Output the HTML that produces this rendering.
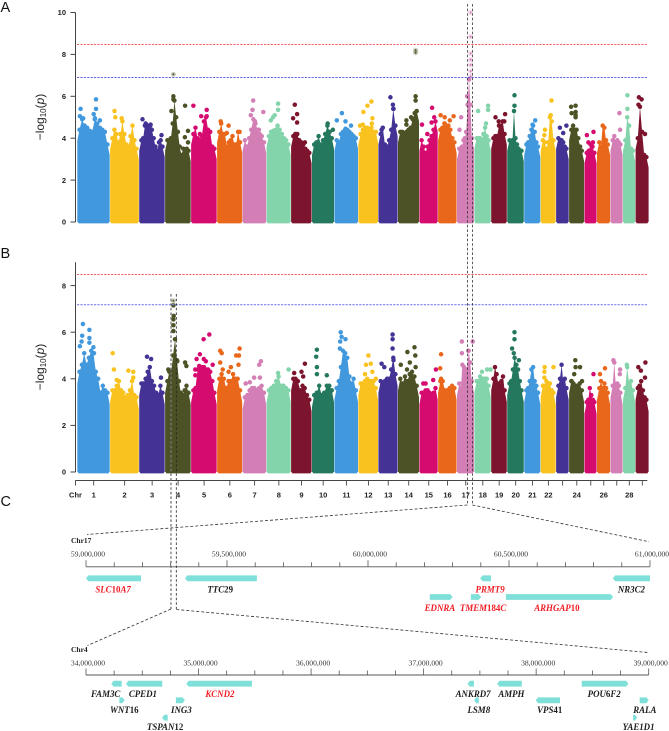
<!DOCTYPE html>
<html lang="en">
<head>
<meta charset="utf-8">
<title>Manhattan plots with candidate gene regions</title>
<style>
html,body{margin:0;padding:0;background:#fff;}
body{width:669px;height:731px;overflow:hidden;}
svg{display:block;}
.tick{font:bold 7.5px "Liberation Sans",sans-serif;fill:#222;}
.serif{font-family:"Liberation Serif",serif;}
</style>
</head>
<body>
<svg id="fig" xmlns="http://www.w3.org/2000/svg" width="669" height="731" viewBox="0 0 669 731">
  <text x="0.5" y="12" font-family="Liberation Sans, sans-serif" font-size="14.5" fill="#111">A</text>
  <text x="0.5" y="258" font-family="Liberation Sans, sans-serif" font-size="14.5" fill="#111">B</text>
  <text x="0.5" y="506" font-family="Liberation Sans, sans-serif" font-size="14.5" fill="#111">C</text>
  <text transform="translate(44,117) rotate(-90)" text-anchor="middle" font-family="Liberation Sans, sans-serif" font-size="12" fill="#222">−log<tspan font-size="8" dy="2">10</tspan><tspan dy="-2">(</tspan><tspan font-style="italic">p</tspan>)</text>
  <text transform="translate(44,367) rotate(-90)" text-anchor="middle" font-family="Liberation Sans, sans-serif" font-size="12" fill="#222">−log<tspan font-size="8" dy="2">10</tspan><tspan dy="-2">(</tspan><tspan font-style="italic">p</tspan>)</text>
  <text x="71" y="543" class="serif" font-size="7.5" font-weight="bold" fill="#222">Chr17</text>
  <text x="71" y="652" class="serif" font-size="7.5" font-weight="bold" fill="#222">Chr4</text>
  <g id="plots"></g>
  <g id="regions"></g>
  <g id="guides" fill="none">
    <line x1="467.4" y1="4" x2="467.4" y2="505" stroke="#333" stroke-width="0.8" stroke-dasharray="2.6 2"/>
    <line x1="472.4" y1="4" x2="472.4" y2="505" stroke="#333" stroke-width="0.8" stroke-dasharray="2.6 2"/>
    <line x1="467.4" y1="505" x2="87" y2="534.5" stroke="#333" stroke-width="0.8" stroke-dasharray="3 2"/>
    <line x1="472.4" y1="505" x2="649" y2="541.7" stroke="#333" stroke-width="0.8" stroke-dasharray="3 2"/>
    <line x1="171" y1="294" x2="171" y2="609" stroke="#777" stroke-width="1.3" stroke-dasharray="2.6 2"/>
    <line x1="176.3" y1="294" x2="176.3" y2="609" stroke="#222" stroke-width="0.8" stroke-dasharray="2.6 2"/>
    <line x1="171" y1="609" x2="87.5" y2="645.5" stroke="#333" stroke-width="0.8" stroke-dasharray="3 2"/>
    <line x1="176.3" y1="609.5" x2="648" y2="652.5" stroke="#333" stroke-width="0.8" stroke-dasharray="3 2"/>
  </g>
</svg>
<script>
var chrNames = [1,2,3,4,5,6,7,8,9,10,11,12,13,14,15,16,17,18,19,20,21,22,23,24,25,26,27,28,29];
var chrLengths = [149,132,118,118,118,116,109,111,95,102,109,91,89,97,85,86,79,76,73,77,75,70,59,70,57,61,57,57,61];
var chrTickLabels = ["1","2","3","4","5","6","7","8","9","10","11","12","13","14","15","16","17","18","19","20","21","22","","24","","26","","28",""];
var palette = ["#4298dc","#f9c21e","#443295","#4c5225","#d60b70","#e9671a","#d37fb6","#84d4ab","#7d142e","#24785e"];
var yTicksA = [0,2,4,6,8,10];
var yTicksB = [0,2,4,6,8];
var thresholdsA = [8.47,6.9];
var thresholdsB = [8.47,7.18];

var profileA = [
[4.4,4.9,4.6,4.5,4.35,4.3,4.9,4.7,4.5,4.4,4.3,3.7],
[4.0,4.4,4.2,3.8,4.2,4.8,4.2,3.7,3.6,4.1,4.6,3.9,3.5],
[3.9,4.0,4.6,4.5,4.6,4.6,4.4,4.0,3.6,3.4,3.8,3.9,3.6],
[3.9,3.9,4.0,4.7,5.8,5.0,4.3,3.6,3.2,3.5,3.4,3.5,3.4],
[4.2,4.5,4.0,3.9,4.1,4.8,5.0,4.4,4.3,3.6,3.5],
[4.3,4.7,4.2,4.2,3.6,3.8,3.9,4.1,3.7,3.7,4.3,3.8],
[3.9,3.6,4.0,4.4,4.9,4.7,4.4,4.2,4.1,3.8],
[4.1,4.3,4.35,4.4,4.6,4.4,4.2,4.0,3.9,3.7],
[4.1,4.2,4.2,3.9,3.8,3.7,3.5,3.4,3.3],
[3.7,3.8,4.1,3.7,3.9,4.2,4.6,4.3,4.0],
[3.9,3.8,4.2,4.3,4.4,4.4,4.3,4.2,4.1,4.0],
[4.2,4.4,4.5,4.5,4.4,4.5,4.3,4.3],
[4.2,4.5,3.7,3.6,3.9,4.4,5.4,4.6],
[4.3,4.3,4.2,4.3,4.4,4.5,4.9,5.2,5.3],
[3.9,3.6,3.3,3.6,3.9,4.1,4.4,4.8],
[4.4,4.5,4.7,4.5,4.6,4.4,4.0,3.8],
[3.5,3.4,3.6,3.9,4.0,4.3,5.6,6.8,5.6,4.0],
[4.0,4.0,4.0,3.9,4.2,4.5,4.1,3.9],
[4.0,4.1,4.1,4.6,4.6,4.8,4.2],
[3.9,3.8,3.9,5.3,4.0,3.7,3.5,3.4,3.4],
[3.7,3.8,4.1,4.4,4.6,4.3,3.8,3.6],
[3.9,3.8,3.5,3.8,5.0,4.8,3.9],
[4.0,3.9,3.9,3.8,3.6,3.5],
[4.4,4.6,4.4,4.4,4.0,3.6,3.4],
[3.3,3.4,3.7,3.6,3.3],
[3.8,3.6,4.6,4.5,3.9,3.7],
[3.9,4.1,3.8,3.9,3.8,3.7],
[3.9,5.0,4.6,3.5,3.4],
[4.0,5.5,4.3,3.2,3.1]
];
var peaksA = [
[[.1,5.4],[.08,5.05],[.18,4.95],[.57,5.85],[.57,5.4],[.5,5.15],[.54,4.95],[.69,4.85]],
[[.15,5.3],[.18,5.0],[.4,4.95]],
[[.13,4.9],[.25,4.7],[.44,4.65],[.86,4.15]],
[[.32,6.0],[.32,5.85],[.77,5.55],[.88,4.35],[.76,4.05],[.88,3.8],[.24,5.3]],
[[.09,5.55],[.6,5.35],[.39,5.05],[.6,5.05],[.34,4.2]],
[[.14,4.8],[.45,4.6],[.38,4.25],[.88,4.3]],
[[.44,5.8],[.41,5.35],[.34,5.1],[.86,5.25],[.51,4.8],[.68,4.4]],
[[.47,5.65],[.47,5.35],[.33,5.1],[.26,5.0],[.17,4.85]],
[[.18,5.6],[.29,5.15],[.1,4.95],[.29,4.75],[.66,3.8]],
[[.7,4.7],[.93,4.4]],
[[.31,5.2],[.1,4.85],[.46,4.8],[.69,4.6],[.46,4.45]],
[[.65,5.75],[.45,5.55],[.25,5.25],[.7,4.95],[.67,4.7],[.08,4.6],[.22,4.65]],
[[.61,5.95],[.74,5.6],[.16,4.4],[.77,5.4]],
[[.82,6.0],[.82,5.8],[.39,4.85],[.39,4.65],[.61,5.0]],
[[.68,5.45],[.14,4.65],[.42,4.2],[.79,5.0],[.65,4.75]],
[[.13,5.1],[.35,5.0],[.62,4.85],[.82,5.05],[.35,4.7]],
[[.58,6.0],[.24,5.0],[.14,4.4]],
[[.22,5.3],[.82,5.55],[.82,5.35],[.69,4.7]],
[[.27,5.0],[.87,5.15],[.47,4.8],[.82,4.8]],
[[.43,6.05],[.43,5.55]],
[[.67,4.85],[.51,4.65]],
[[.7,5.8],[.65,5.1],[.28,4.4],[.24,4.15]],
[[.79,4.6],[.29,4.5],[.55,4.25]],
[[.42,5.55],[.42,5.25],[.13,5.5],[.42,5.1],[.16,5.2],[.42,5.0]],
[[.19,4.15],[.72,4.3],[.31,3.8],[.67,3.8]],
[],
[[.71,5.2],[.77,4.4]],
[[.35,6.05],[.35,5.4]],
[[.25,5.95],[.45,5.85],[.22,5.6],[.7,4.2]]
];
var highlightsA = [[3,.32,7.05],[13,.82,8.08],[13,.82,8.2],[16,.78,10.0],[16,.78,8.85],[16,.78,8.05],[16,.78,7.75],[16,.78,7.5],[16,.78,7.2],[16,.78,6.95]];

var profileB = [
[4.3,4.6,5.1,4.6,4.9,5.2,5.1,4.3,4.0,3.4,3.7,3.5,3.4],
[3.5,3.5,3.7,3.9,3.5,3.4,3.2,3.3,3.5,3.9,3.3,3.2],
[3.8,3.8,4.0,4.3,4.5,3.9,3.7,3.4,3.3,3.7,3.4],
[3.9,4.3,4.3,5.0,5.7,4.8,3.9,3.4,3.3,3.5,3.7,3.4],
[3.5,3.6,4.4,4.5,4.5,4.5,4.4,4.4,4.3,3.9,3.4],
[4.0,4.2,4.0,3.6,3.9,3.9,4.2,4.0,4.0,3.5],
[3.2,3.3,3.5,3.6,3.6,3.5,3.6,3.7,3.4],
[3.5,3.6,3.7,3.9,4.1,3.7,3.7,3.6,3.5],
[4.0,4.0,3.9,3.5,3.7,3.6,3.3,3.1],
[3.3,3.4,3.7,3.3,3.4,3.7,3.7,3.5],
[3.6,3.9,4.5,5.2,5.1,4.9,4.1,3.8,4.0,3.5],
[3.8,3.8,3.9,4.0,3.9,3.9,3.9,3.6],
[3.9,3.8,3.9,4.0,4.0,4.4,4.9,4.2],
[4.0,3.8,4.1,3.9,4.2,4.3,4.1,3.7],
[3.4,3.4,3.5,3.5,3.4,3.3,3.4,3.6],
[3.9,3.9,3.5,3.5,3.6,3.7,3.6],
[3.8,3.6,4.6,4.5,4.4,4.4,5.2,4.7,3.9],
[3.9,3.9,4.1,4.0,4.0,4.0,4.0,3.7],
[4.0,4.5,4.2,3.8,3.7,3.9,4.1,3.5],
[3.8,3.9,4.4,4.9,4.6,4.4,3.9,3.5],
[3.5,3.6,3.9,4.4,4.5,3.9,3.7,3.4],
[3.7,3.7,3.9,3.8,3.8,3.5,3.4],
[3.7,4.0,4.6,3.9,4.0,3.6],
[3.9,3.8,3.7,3.7,3.8,3.5],
[3.0,3.1,3.6,3.3,3.1,3.0],
[3.6,3.9,3.6,3.8,3.6,3.4],
[3.7,4.7,3.7,3.8,3.7,3.4],
[3.6,4.5,3.8,3.9,3.5],
[3.6,3.7,3.9,3.5,3.2,3.1]
];
var peaksB = [
[[.17,6.35],[.37,6.1],[.15,5.85],[.13,5.6],[.37,5.75],[.37,5.55],[.49,5.35],[.08,5.4],[.51,5.1]],
[[.09,5.1],[.13,4.4],[.63,4.35],[.8,4.3],[.8,4.05],[.23,3.95]],
[[.3,4.95],[.46,4.85],[.84,4.05]],
[[.32,7.15],[.33,6.7],[.32,6.55],[.32,6.3],[.32,6.05],[.77,4.7],[.82,4.55],[.47,4.75],[.12,4.4]],
[[.7,5.9],[.48,5.7],[.34,5.05],[.21,4.85],[.49,4.85],[.57,4.75],[.16,4.4],[.16,4.15],[.31,4.55],[.83,4.6]],
[[.12,5.2],[.18,5.1],[.12,4.7],[.88,5.3],[.75,5.0],[.86,5.0],[.84,4.6],[.54,4.5],[.22,4.4],[.45,4.3]],
[[.76,4.75],[.69,4.6],[.48,4.05],[.13,3.8],[.3,3.85],[.72,4.05]],
[[.9,4.4],[.47,4.25]],
[[.66,4.65],[.5,4.3],[.15,4.25],[.58,4.1]],
[[.22,5.25],[.19,4.95],[.22,4.5],[.66,4.15],[.22,4.2]],
[[.26,6.0],[.3,5.8],[.46,5.7],[.24,5.6],[.23,5.3]],
[[.5,5.0],[.38,4.6],[.62,4.65],[.7,4.3],[.33,4.2],[.87,4.0]],
[[.72,5.9],[.72,5.7],[.72,5.3],[.16,4.65],[.3,4.5],[.77,4.8]],
[[.77,5.35],[.44,5.15],[.81,5.0],[.55,4.7],[.13,4.6],[.82,4.5],[.42,4.4]],
[[.88,4.4],[.74,3.95],[.21,3.8],[.33,3.8]],
[[.16,5.05],[.11,4.45],[.16,4.0]],
[[.28,5.6],[.28,5.1],[.9,5.6],[.64,5.2]],
[[.45,4.3],[.76,4.4],[.96,4.4]],
[],
[[.43,6.0],[.43,5.7],[.29,5.3],[.39,5.1],[.69,4.8]],
[],
[[.26,4.5],[.83,4.5],[.24,4.3],[.24,4.05]],
[],
[[.4,4.8],[.71,4.5],[.42,4.5],[.33,4.2],[.16,3.9],[.84,3.9]],
[[.72,4.2]],
[[.59,4.45],[.22,4.2]],
[[.23,4.8],[.77,4.4],[.74,4.2]],
[[.3,4.6]],
[[.73,4.7],[.2,4.5],[.4,4.35],[.7,4.05]]
];
var highlightsB = [[3,.32,7.35]];

var region17Labels = ["59,000,000","59,500,000","60,000,000","60,500,000","61,000,000"];
var region17Majors = [59,59.5,60,60.5,61];
var region4Labels = ["34,000,000","35,000,000","36,000,000","37,000,000","38,000,000","39,000,000"];
var region4Majors = [34,35,36,37,38,39];

var genes17Names = ["SLC10A7","TTC29","PRMT9","NR3C2","EDNRA","TMEM184C","ARHGAP10"];
var genes17Start = [59.0,59.351,60.398,60.868,60.219,60.365,60.489];
var genes17End = [59.195,59.606,60.436,61.0,60.300,60.401,60.869];
var genes17Dir = [-1,-1,-1,-1,1,1,1];
var genes17Row = [0,0,0,0,1,1,1];
var genes17Red = [1,0,1,0,1,1,1];
var genes17LabelAt = [59.096,59.476,60.433,60.934,60.255,60.408,60.67];

var genes4Names = ["FAM3C","CPED1","WNT16","ING3","TSPAN12","KCND2","ANKRD7","AMPH","LSM8","VPS41","POU6F2","RALA","YAE1D1"];
var genes4Start = [34.225,34.355,34.296,34.799,34.675,34.891,37.390,37.653,37.448,37.996,38.405,38.920,38.861];
var genes4End = [34.317,34.678,34.344,34.879,34.726,35.474,37.448,37.872,37.490,38.212,38.820,39.0,38.896];
var genes4Dir = [-1,-1,1,1,-1,-1,-1,-1,-1,-1,1,1,1];
var genes4Row = [0,0,1,1,2,0,0,0,1,1,0,1,2];
var genes4Red = [0,0,0,0,0,1,0,0,0,0,0,0,0];
var genes4LabelAt = [34.175,34.506,34.340,34.848,34.703,35.190,37.44,37.78,37.49,38.12,38.605,38.965,38.910];

var NS = "http://www.w3.org/2000/svg";
var plots = document.getElementById("plots");
var regions = document.getElementById("regions");
function mk(parent, tag, attrs, text) {
  var e = document.createElementNS(NS, tag);
  for (var k in attrs) e.setAttribute(k, attrs[k]);
  if (text !== undefined) e.textContent = text;
  parent.appendChild(e);
  return e;
}
var genomeTotal = chrLengths.reduce(function (a, b) { return a + b; }, 0);
var GX0 = 77.3, GX1 = 649;
function xGenome(mb) { return GX0 + mb / genomeTotal * (GX1 - GX0); }
var chrOffsets = [];
chrLengths.reduce(function (s, l, i) { chrOffsets[i] = s; return s + l; }, 0);
function chrX(i, f) { return xGenome(chrOffsets[i] + f * chrLengths[i]); }

function drawPanel(cfg) {
  var panel = mk(plots, "g", {});
  
  
  var R = 2.25;
  chrLengths.forEach(function (len, i) {
    var col = palette[i % palette.length];
    var g = mk(panel, "g", { fill: col });
    
    
    var prof = cfg.profile[i], n = prof.length;
    var x0 = chrX(i, 0), x1 = chrX(i, 1) - 0.4;
    var px = function (k) { return x0 + R + (x1 - x0 - 2 * R) * k / (n - 1); };
    var base = cfg.y(0);
    var d = "M" + x0.toFixed(1) + " " + base.toFixed(1) + " L" + x0.toFixed(1) + " " + cfg.y(prof[0] - 0.5).toFixed(1);
    prof.forEach(function (v, k) { d += " L" + px(k).toFixed(1) + " " + cfg.y(v).toFixed(1); });
    d += " L" + x1.toFixed(1) + " " + cfg.y(prof[n - 1] - 0.5).toFixed(1) + " L" + x1.toFixed(1) + " " + base.toFixed(1) + "Z";
    var mass = mk(g, "path", { d: d });
    
    
    var foot = mk(g, "rect", { x: x0 + 0.6, y: base - 1, width: x1 - x0 - 1.2, height: 2.4, rx: 1.2 });
    
    
    prof.forEach(function (v, k) {
      var c = mk(g, "circle", { cx: px(k).toFixed(1), cy: cfg.y(v).toFixed(1), r: R });
      
      
    });
    cfg.peaks[i].forEach(function (p) {
      var c = mk(g, "circle", { cx: chrX(i, p[0]).toFixed(1), cy: cfg.y(p[1]).toFixed(1), r: R });
      
      
    });
  });
  cfg.highlights.forEach(function (h) {
    var cx = chrX(h[0], h[1]).toFixed(1), cy = cfg.y(h[2]).toFixed(1);
    var col = palette[h[0] % palette.length];
    var halo = mk(panel, "circle", { cx: cx, cy: cy, r: 2.6, fill: col, "fill-opacity": 0.28 });
    
    
    var dot = mk(panel, "circle", { cx: cx, cy: cy, r: 1.0, fill: col });
    
    
  });
  var cols = cfg.thresholdColors;
  cfg.thresholds.forEach(function (t, k) {
    var l = mk(panel, "line", { x1: 77, x2: 647.5, y1: cfg.y(t).toFixed(1), y2: cfg.y(t).toFixed(1), stroke: cols[k], "stroke-width": cfg.thresholdWidth[k], "stroke-dasharray": "2.2 1.2" });
    
    
  });
  var axis = mk(panel, "line", { x1: 75.5, x2: 75.5, y1: cfg.y(0), y2: cfg.y(cfg.axisTop), stroke: "#444", "stroke-width": 1 });
  
  
  cfg.ticks.forEach(function (t) {
    var y = cfg.y(t);
    var tk = mk(panel, "line", { x1: 70.5, x2: 75.5, y1: y, y2: y, stroke: "#444", "stroke-width": 1 });
    
    
    var lb = mk(panel, "text", { x: 66, y: y + 2.7, "text-anchor": "end", "class": "tick" }, String(t));
    
    
  });
}
drawPanel({ name: "manhattan-a", y: function (v) { return 222 - v * 20.95; }, profile: profileA, peaks: peaksA, highlights: highlightsA, thresholds: thresholdsA, thresholdColors: ["#f4494f", "#4a50e0"], thresholdWidth: [0.9, 0.9], ticks: yTicksA, axisTop: 10 });
drawPanel({ name: "manhattan-b", y: function (v) { return 472 - v * 23.3; }, profile: profileB, peaks: peaksB, highlights: highlightsB, thresholds: thresholdsB, thresholdColors: ["#f4494f", "#7d80f0"], thresholdWidth: [0.9, 1.2], ticks: yTicksB, axisTop: 9 });

(function () {
  var g = mk(plots, "g", {});
  
  
  var line = mk(g, "line", { x1: 75.3, x2: 647.3, y1: 480.5, y2: 480.5, stroke: "#444", "stroke-width": 1 });
  
  
  var chr = mk(g, "text", { x: 75.5, y: 497.5, "text-anchor": "middle", "class": "tick" }, "Chr");
  
  
  var first = mk(g, "line", { x1: 75.5, x2: 75.5, y1: 480.5, y2: 485.5, stroke: "#444", "stroke-width": 0.9 });
  
  
  chrLengths.forEach(function (len, i) {
    var x = chrX(i, 0.5);
    var t = mk(g, "line", { x1: x, x2: x, y1: 480.5, y2: 485.5, stroke: "#444", "stroke-width": 0.9 });
    
    
    if (chrTickLabels[i]) {
      var l = mk(g, "text", { x: x, y: 497.5, "text-anchor": "middle", "class": "tick" }, chrTickLabels[i]);
      
      
    }
  });
})();

function drawRegion(cfg) {
  var g = mk(regions, "g", {});
  
  
  var x = function (mb) { return 86 + (mb - cfg.start) / (cfg.end - cfg.start) * cfg.width; };
  var line = mk(g, "line", { x1: x(cfg.start), x2: x(cfg.end), y1: cfg.axisY, y2: cfg.axisY, stroke: "#555", "stroke-width": 0.9 });
  
  
  var steps = Math.round((cfg.end - cfg.start) / cfg.minor);
  for (var s = 0; s <= steps; s++) {
    var mb = cfg.start + s * cfg.minor;
    var major = cfg.majors.some(function (m) { return Math.abs(m - mb) < 1e-6; });
    var t = mk(g, "line", { x1: x(mb), x2: x(mb), y1: cfg.axisY - (major ? 6.5 : 4.5), y2: cfg.axisY, stroke: "#555", "stroke-width": 0.8 });
    
    
  }
  cfg.majors.forEach(function (m, i) {
    var l = mk(g, "text", { x: x(m) + 2, y: cfg.labelY, "text-anchor": "middle", "class": "serif", "font-size": 7.6, fill: "#333" }, cfg.labels[i]);
    
    
  });
  cfg.names.forEach(function (name, i) {
    var x0 = x(cfg.geneStart[i]), x1 = x(cfg.geneEnd[i]);
    var yc = cfg.rowY[cfg.rows[i]], h = 2.9, tip = Math.min(2.4, (x1 - x0) / 2), pts;
    if (cfg.dir[i] < 0) {
      pts = [[x0, yc], [x0 + tip, yc - h], [x1, yc - h], [x1, yc + h], [x0 + tip, yc + h]];
    } else {
      pts = [[x1, yc], [x1 - tip, yc + h], [x0, yc + h], [x0, yc - h], [x1 - tip, yc - h]];
    }
    var arrow = mk(g, "polygon", { points: pts.map(function (p) { return p[0].toFixed(1) + "," + p[1].toFixed(1); }).join(" "), fill: "#7ee0d8" });
    
    
    var label = mk(g, "text", { x: x(cfg.labelAt[i]).toFixed(1), y: cfg.rowLabelY[cfg.rows[i]], "text-anchor": "middle", "class": "serif", "font-size": 8.9, "font-weight": "bold", "font-style": "italic", fill: cfg.red[i] ? "#f01c24" : "#1c1c1c" });
    
    
    var parts = (name === "POU6F2" ? "POU|6|F2" : name.replace(/(\d{2,3})/, "|$1|")).split("|");
    parts.forEach(function (part, k) {
      if (!part) return;
      var attrs = (k % 2 === 1) ? { "font-style": "normal" } : {};
      mk(label, "tspan", attrs, part);
    });
  });
}
drawRegion({ name: "region-chr17", start: 59, end: 61, minor: 0.1, width: 564, axisY: 566.8, labelY: 556.4, majors: region17Majors, labels: region17Labels, names: genes17Names, geneStart: genes17Start, geneEnd: genes17End, dir: genes17Dir, rows: genes17Row, red: genes17Red, labelAt: genes17LabelAt, rowY: [578.3, 597], rowLabelY: [592.7, 611] });
drawRegion({ name: "region-chr4", start: 34, end: 39, minor: 0.25, width: 562.7, axisY: 675, labelY: 665.5, majors: region4Majors, labels: region4Labels, names: genes4Names, geneStart: genes4Start, geneEnd: genes4End, dir: genes4Dir, rows: genes4Row, red: genes4Red, labelAt: genes4LabelAt, rowY: [683.7, 700.3, 717.7], rowLabelY: [697.2, 713.2, 729.8] });
</script>
</body>
</html>
